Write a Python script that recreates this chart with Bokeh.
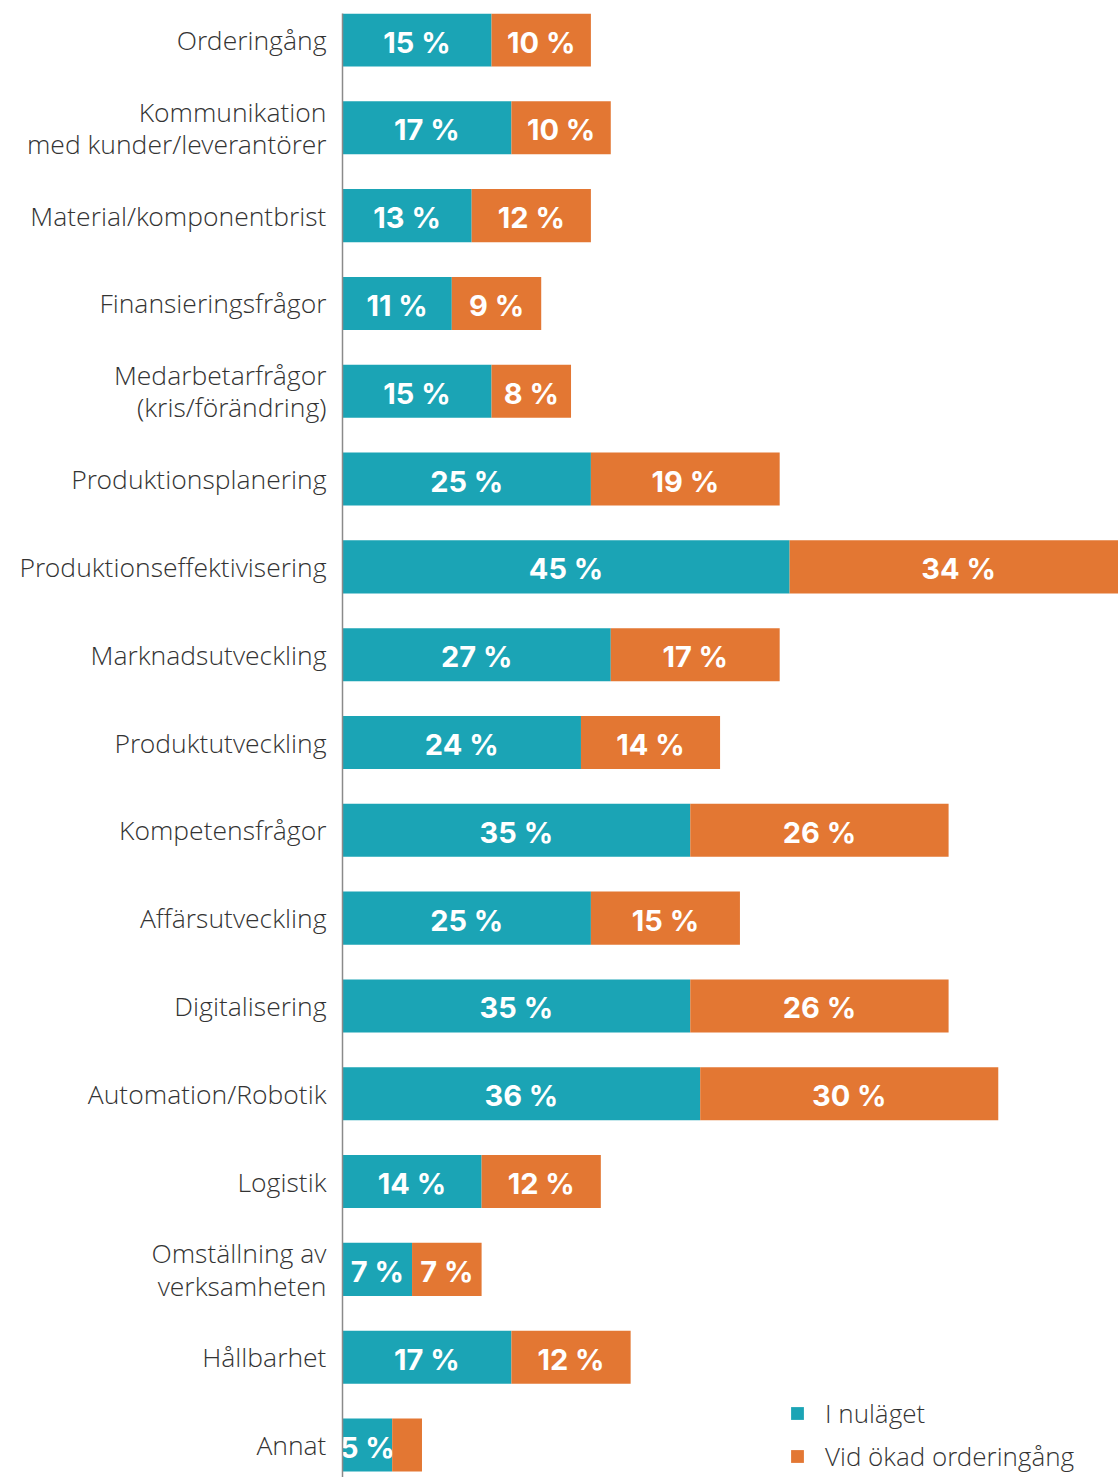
from bokeh.plotting import figure
from bokeh.models import ColumnDataSource, Range1d, FixedTicker, Legend, LegendItem
from bokeh.embed import file_html
from bokeh.resources import INLINE
from bokeh.core.properties import value

categories = [
    "Orderingång",
    "Kommunikation\nmed kunder/leverantörer",
    "Material/komponentbrist",
    "Finansieringsfrågor",
    "Medarbetarfrågor\n(kris/förändring)",
    "Produktionsplanering",
    "Produktionseffektivisering",
    "Marknadsutveckling",
    "Produktutveckling",
    "Kompetensfrågor",
    "Affärsutveckling",
    "Digitalisering",
    "Automation/Robotik",
    "Logistik",
    "Omställning av\nverksamheten",
    "Hållbarhet",
    "Annat",
]
i_nulaget = [15, 17, 13, 11, 15, 25, 45, 27, 24, 35, 25, 35, 36, 14, 7, 17, 5]
vid_okad = [10, 10, 12, 9, 8, 19, 34, 17, 14, 26, 15, 26, 30, 12, 7, 12, 3]
series_names = ["I nuläget", "Vid ökad orderingång"]

TEAL = "#1BA4B5"
ORANGE = "#E37733"
LABEL_FONT = "Open Sans Light"
NUM_FONT = "Inter"

idx = list(range(len(categories)))
src = ColumnDataSource(dict(
    y=idx,
    a0=[0] * len(idx),
    a1=i_nulaget,
    b1=[a + b for a, b in zip(i_nulaget, vid_okad)],
    ac=[a / 2 for a in i_nulaget],
    bc=[a + b / 2 for a, b in zip(i_nulaget, vid_okad)],
    at=[f"{a} %" for a in i_nulaget],
    bt=[f"{b} %" if b >= 5 else "" for b in vid_okad],
))

p = figure(
    output_backend="svg", toolbar_location=None,
    frame_width=776, frame_height=1464,
    min_border_left=342, min_border_top=13, min_border_right=0, min_border_bottom=0,
    x_range=Range1d(0, 78.1), y_range=Range1d(16.37, -0.302),
    x_axis_location=None,
)
p.outline_line_color = None
p.xgrid.visible = False
p.ygrid.visible = False
p.background_fill_color = "white"
p.border_fill_color = "white"

r1 = p.hbar(y="y", left="a0", right="a1", height=0.604, source=src,
            fill_color=TEAL, line_color=None)
r2 = p.hbar(y="y", left="a1", right="b1", height=0.604, source=src,
            fill_color=ORANGE, line_color=None)

for xc, tc in (("ac", "at"), ("bc", "bt")):
    p.text(x=xc, y="y", text=tc, source=src, text_align="center",
           text_baseline="middle", text_color="white",
           text_font=value(NUM_FONT), text_font_style="bold",
           text_font_size="29px", y_offset=2)

ax = p.yaxis[0]
ax.ticker = FixedTicker(ticks=idx)
ax.major_label_overrides = {i: c for i, c in zip(idx, categories)}
ax.major_tick_line_color = None
ax.minor_tick_line_color = None
ax.axis_line_color = "#8a8a8a"
ax.axis_line_width = 1.5
ax.major_label_standoff = 10
ax.major_label_text_font = LABEL_FONT
ax.major_label_text_font_size = "26.5px"
ax.major_label_text_line_height = 0.9
ax.major_label_text_color = "#333333"

legend = Legend(
    items=[LegendItem(label=series_names[0], renderers=[r1]),
           LegendItem(label=series_names[1], renderers=[r2])],
    location=(447, 3),
    glyph_width=16, glyph_height=16, label_height=30, spacing=7,
    label_standoff=20, padding=0, margin=0,
    border_line_color=None, background_fill_alpha=0,
    label_text_font=LABEL_FONT, label_text_font_size="26px",
    label_text_color="#333333",
)
p.add_layout(legend)

open("out.html", "w").write(file_html(p, INLINE))
